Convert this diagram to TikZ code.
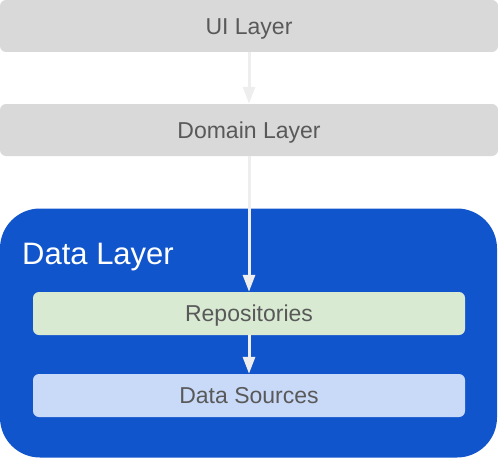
\documentclass[tikz,border=0pt]{standalone}
\usepackage{fontspec}
\setmainfont{Liberation Sans}
\usepackage{tikz}
\usetikzlibrary{arrows.meta}
\definecolor{layergray}{HTML}{D9D9D9}
\definecolor{datablue}{HTML}{1155CC}
\definecolor{repogreen}{HTML}{D9EAD3}
\definecolor{sourceblue}{HTML}{C9DAF8}
\definecolor{labelgray}{HTML}{595959}
\definecolor{arrowgray}{HTML}{EEEEEE}

\begin{document}
\begin{tikzpicture}[x=1pt, y=-1pt,
    layerbox/.style={rectangle, rounded corners=6pt, inner sep=0pt, text height=16.5pt, text depth=0pt, text=labelgray, font=\fontsize{23}{27}\selectfont},
    flow/.style={-{Triangle[width=12pt, length=17pt]}, line width=3pt, arrowgray}]
        \useasboundingbox (0,0) rectangle (498,460);

        % Capas superiores
        \node[layerbox, fill=layergray, minimum width=498pt, minimum height=52pt] (ui) at (249,26) {UI Layer};
        \node[layerbox, fill=layergray, minimum width=498pt, minimum height=52pt] (domain) at (249,130) {Domain Layer};

        % Capa de datos
        \node[rectangle, rounded corners=40pt, fill=datablue, minimum width=497pt, minimum height=249pt] (data) at (248.5,333) {};
        \node[anchor=base west, text=white, inner sep=0pt, font=\fontsize{31}{36}\selectfont] (datatitle) at (22,264) {Data Layer};
        \node[layerbox, fill=repogreen, minimum width=432pt, minimum height=43pt] (repos) at (249,313.5) {Repositories};
        \node[layerbox, fill=sourceblue, minimum width=432pt, minimum height=43pt] (sources) at (249,395.5) {Data Sources};

        % Flechas
        \draw[flow] (ui) -- (domain);
        \draw[flow] (domain) -- (repos);
        \draw[flow] (repos) -- (sources);
    \end{tikzpicture}
\end{document}
